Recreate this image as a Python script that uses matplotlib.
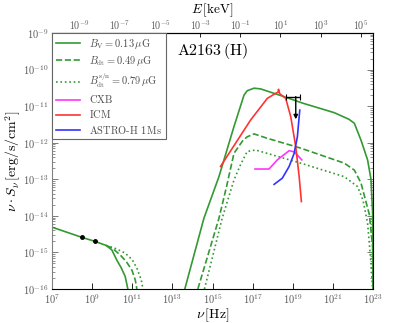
import numpy as np
import matplotlib
matplotlib.use("Agg")
import matplotlib.pyplot as plt
from matplotlib.ticker import LogLocator, NullLocator, FixedLocator

plt.rcParams['font.family'] = 'serif'
plt.rcParams['font.serif'] = ['cmr10', 'DejaVu Serif']
plt.rcParams['mathtext.fontset'] = 'cm'
plt.rcParams['axes.formatter.use_mathtext'] = True
plt.rcParams['axes.unicode_minus'] = False

# ---- data (log10 nu [Hz], log10 nu*S_nu [erg/s/cm^2]) ----
radio_V_lognu = [7.0, 8.5, 9.15, 9.7, 9.98, 10.23, 10.45, 10.65, 10.78]
radio_V_logS = [-14.31, -14.59, -14.70, -14.81, -14.93, -15.21, -15.42, -15.66, -16.0]
radio_dt_lognu = [9.7, 10.0, 10.4, 10.7, 10.98, 11.15, 11.23]
radio_dt_logS = [-14.81, -14.88, -15.07, -15.25, -15.48, -15.75, -16.0]
radio_sn_lognu = [9.7, 10.2, 10.65, 11.0, 11.23, 11.45, 11.53]
radio_sn_logS = [-14.81, -14.9, -15.02, -15.2, -15.43, -15.75, -16.0]

ic_V_lognu = [13.62, 14.57, 15.32, 16.07, 16.57, 16.73, 17.07, 17.4, 18.5, 19.5, 21.07, 21.8, 22.07, 22.4, 22.73, 22.9, 22.98, 23.0]
ic_V_logS = [-16.0, -14.07, -12.93, -11.56, -10.70, -10.58, -10.51, -10.53, -10.73, -10.92, -11.18, -11.36, -11.47, -11.93, -12.47, -13.0, -13.93, -16.0]
ic_dt_lognu = [14.27, 15.32, 15.7, 16.07, 16.5, 16.73, 17.07, 17.73, 19.4, 21.57, 22.07, 22.4, 22.82, 22.98, 23.0]
ic_dt_logS = [-16.0, -14.07, -13.2, -12.29, -11.95, -11.84, -11.76, -11.88, -12.15, -12.56, -12.75, -13.1, -13.97, -14.84, -16.0]
ic_sn_lognu = [14.6, 15.48, 16.07, 16.4, 16.73, 17.15, 19.4, 21.57, 22.23, 22.5, 22.73, 22.9, 22.98]
ic_sn_logS = [-16.0, -14.07, -13.02, -12.6, -12.24, -12.2, -12.56, -12.93, -13.2, -13.57, -14.2, -15.3, -16.0]

radio_obs_lognu = [8.51, 9.15]
radio_obs_logS = [-14.59, -14.70]

icm_lognu = [15.4, 16.9, 17.73, 18.15, 18.27, 18.29, 18.35, 18.65, 18.9, 19.15, 19.32, 19.43]
icm_logS = [-12.65, -11.38, -10.79, -10.65, -10.62, -10.54, -10.66, -10.79, -11.29, -12.11, -12.93, -13.61]

cxb_lognu = [17.12, 17.82, 18.23, 18.82, 19.07, 19.23, 19.45]
cxb_logS = [-12.72, -12.72, -12.47, -12.22, -12.25, -12.34, -12.47]

astroh_lognu = [18.07, 18.48, 18.82, 19.07, 19.23, 19.32, 19.35]
astroh_logS = [-13.14, -12.97, -12.65, -12.29, -11.84, -11.29, -11.11]

ul_lognu = 19.15
ul_lognu_lo = 18.65
ul_lognu_hi = 19.37
ul_logS = -10.74
ul_logS_end = -11.36

labels = [r'$B_{\rm V}=0.13\,\mu{\rm G}$', r'$B_{\rm dt}=0.49\,\mu{\rm G}$',
          r'$B_{\rm dt}^{\rm s/n}=0.79\,\mu{\rm G}$', r'$\rm CXB$', r'$\rm ICM$',
          r'$\rm ASTRO$-$\rm H\ 1\,Ms$']

KEV_HZ = 2.418e17

def p(a):
    return 10.0 ** np.asarray(a)

fig = plt.figure(figsize=(4.15, 3.23), dpi=100)
ax = fig.add_axes([0.1253, 0.1053, 0.7735, 0.7927])

green = (0.2, 0.6, 0.2)
lw = 1.2
ax.plot(p(radio_V_lognu), p(radio_V_logS), '-', color=green, lw=lw, label=labels[0])
ax.plot(p(radio_dt_lognu), p(radio_dt_logS), '--', color=green, lw=lw, label=labels[1])
ax.plot(p(radio_sn_lognu), p(radio_sn_logS), ':', color=green, lw=lw, label=labels[2])
ax.plot(p(ic_V_lognu), p(ic_V_logS), '-', color=green, lw=lw)
ax.plot(p(ic_dt_lognu), p(ic_dt_logS), '--', color=green, lw=lw)
ax.plot(p(ic_sn_lognu), p(ic_sn_logS), ':', color=green, lw=lw)
ax.plot(p(cxb_lognu), p(cxb_logS), '-', color=(1, 0.2, 1), lw=lw, label=labels[3])
ax.plot(p(icm_lognu), p(icm_logS), '-', color=(1, 0.2, 0.2), lw=lw, label=labels[4])
ax.plot(p(astroh_lognu), p(astroh_logS), '-', color=(0.2, 0.2, 1), lw=lw, label=labels[5])
ax.plot(p(radio_obs_lognu), p(radio_obs_logS), 'o', color='k', ms=2.5, zorder=5)

# upper limit
x0 = 10 ** ul_lognu
y0 = 10 ** ul_logS
ax.errorbar([x0], [y0], xerr=[[x0 - 10 ** ul_lognu_lo], [10 ** ul_lognu_hi - x0]],
            fmt='none', ecolor='k', elinewidth=1.0, capsize=2, capthick=0.8)
ax.annotate('', xy=(x0, 10 ** ul_logS_end), xytext=(x0, y0),
            arrowprops=dict(arrowstyle='-|>', color='k', lw=1.0, mutation_scale=6,
                            shrinkA=0, shrinkB=0))

ax.set_xscale('log')
ax.set_yscale('log')
ax.set_xlim(1e7, 1e23)
ax.set_ylim(1e-16, 1e-9)

ax.xaxis.set_major_locator(FixedLocator([10.0 ** e for e in range(7, 24, 2)]))
ax.xaxis.set_minor_locator(NullLocator())
ax.yaxis.set_major_locator(FixedLocator([10.0 ** e for e in range(-16, -8)]))
ax.yaxis.set_minor_locator(LogLocator(base=10, subs=np.arange(2, 10), numticks=50))

tick_col = '0.35'
ax.tick_params(which='both', direction='in', top=False, right=True, labelsize=7.5,
               labelcolor=tick_col, pad=2.5)
ax.tick_params(which='major', length=4, width=0.6)
ax.tick_params(which='minor', length=2, width=0.5)
ax.spines['left'].set_color('0.5')
ax.tick_params(axis='y', which='both', color='0.4')

sec = ax.secondary_xaxis('top', functions=(lambda x: x / KEV_HZ, lambda e: e * KEV_HZ))
sec.set_xscale('log')
sec.xaxis.set_major_locator(FixedLocator([10.0 ** e for e in range(-9, 6, 2)]))
sec.xaxis.set_minor_locator(NullLocator())
sec.tick_params(direction='in', length=3, width=0.6, labelsize=7.2, labelcolor=tick_col,
                pad=1.0)
sec.set_xlabel(r'$E\,[\mathrm{keV}]$', fontsize=9.5, labelpad=3.5)

ax.set_xlabel(r'$\nu\,[\mathrm{Hz}]$', fontsize=10, labelpad=0)
ax.set_ylabel(r'$\nu\cdot S_\nu\,[\mathrm{erg/s/cm^2}]$', fontsize=10, labelpad=0)

ax.text(0.5, 0.93, r'$\rm A2163\,(H)$', transform=ax.transAxes, fontsize=11.5,
        ha='center', va='center')

leg = ax.legend(loc='upper left', borderaxespad=0, fontsize=7.5, handlelength=2.3,
                fancybox=False, framealpha=1, labelspacing=0.3, borderpad=0.35,
                handletextpad=0.9)
leg.get_frame().set_edgecolor('0.4')
leg.get_frame().set_linewidth(0.8)
for t in leg.get_texts():
    t.set_color('0.3')

fig.savefig('out.png', dpi=100)
